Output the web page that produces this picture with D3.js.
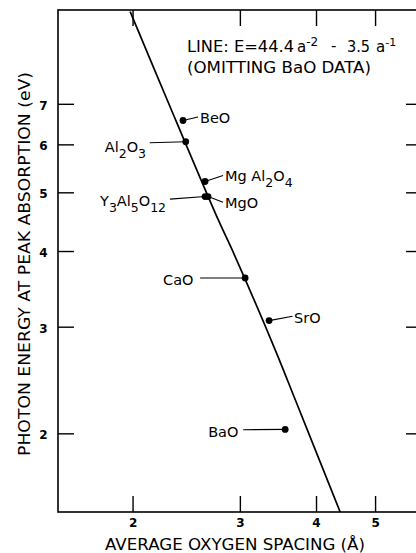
<!DOCTYPE html>
<html>
<head>
<meta charset="utf-8">
<script src="https://cdn.jsdelivr.net/npm/d3@7"></script>
<style>
  html, body { margin: 0; padding: 0; background: #fff; }
  svg { display: block; }
  text { font-family: "DejaVu Sans", sans-serif; fill: #000; }
</style>
</head>
<body>
<svg id="chart" width="416" height="553"></svg>
<script>
// ---- data ----
const compounds = ["BeO", "Al2O3", "Mg Al2O4", "Y3Al5O12", "MgO", "CaO", "SrO", "BaO"];
const spacing   = [2.42, 2.445, 2.63, 2.63, 2.66, 3.06, 3.35, 3.56];   // average oxygen spacing (Å)
const energy    = [6.57, 6.06, 5.21, 4.92, 4.92, 3.61, 3.07, 2.03];     // photon energy (eV)

// fitted line
const lineSpacing = [1.982, 2.279, 2.763, 2.913, 3.427, 3.70, 4.382];
const lineEnergy  = [9.94, 7.11, 4.51, 4.02, 2.75, 2.27, 1.483];

const xTicks = [2, 3, 4, 5];
const yTicks = [2, 3, 4, 5, 6, 7];

const xTitle = "AVERAGE OXYGEN SPACING (Å)";
const yTitle = "PHOTON ENERGY AT PEAK ABSORPTION (eV)";
const noteLine2 = "(OMITTING BaO DATA)";

// ---- layout (label placement relative to each dot) ----
const labelLayout = {
  "BeO":      { tx: 17,  ty: 2.5,  lx: 15,  ly: -3.5 },
  "Al2O3":    { tx: -81, ty: 10.2, lx: -36, ly: 1 },
  "Mg Al2O4": { tx: 20,  ty: 0,    lx: 18,  ly: -6 },
  "Y3Al5O12": { tx: -105,ty: 9.8,  lx: -35, ly: 2.6 },
  "MgO":      { tx: 17,  ty: 11.3, lx: 15,  ly: 5.8 },
  "CaO":      { tx: -82, ty: 6.7,  lx: -45, ly: 0 },
  "SrO":      { tx: 25,  ty: 2,    lx: 23.5,ly: -4.3 },
  "BaO":      { tx: -77, ty: 7.5,  lx: -42, ly: 0.3 }
};

const svg = d3.select("#chart");
const mLeft = 58, mRight = 422, mTop = 10, mBottom = 512;

const x = d3.scaleLog().domain([1.509, 5.97]).range([mLeft, mRight]);
const y = d3.scaleLog().domain([1.483, 10.0]).range([mBottom, mTop]);

// frame
svg.append("rect")
  .attr("x", mLeft).attr("y", mTop)
  .attr("width", mRight - mLeft).attr("height", mBottom - mTop)
  .attr("fill", "none").attr("stroke", "#000").attr("stroke-width", 1.6);

function styleAxis(g) {
  g.select(".domain").remove();
  g.selectAll(".tick line").attr("stroke", "#000").attr("stroke-width", 1.4);
  g.selectAll(".tick text")
    .attr("font-family", "DejaVu Sans, sans-serif")
    .attr("font-size", 12).attr("font-weight", "bold").attr("fill", "#000");
}

// bottom axis
svg.append("g").attr("transform", `translate(0,${mBottom})`)
  .call(d3.axisBottom(x).tickValues(xTicks).tickSize(-16).tickPadding(6).tickFormat(d3.format("d")))
  .call(styleAxis);
// top axis
svg.append("g").attr("transform", `translate(0,${mTop})`)
  .call(d3.axisTop(x).tickValues(xTicks).tickSize(-16).tickFormat(""))
  .call(styleAxis);
// left axis
const gl = svg.append("g").attr("transform", `translate(${mLeft},0)`)
  .call(d3.axisLeft(y).tickValues(yTicks).tickSize(-16).tickFormat(d3.format("d")))
  .call(styleAxis);
gl.selectAll(".tick text").attr("text-anchor", "middle").attr("x", 43.5 - mLeft).attr("dy", "0.45em");
// right axis
svg.append("g").attr("transform", `translate(${mRight},0)`)
  .call(d3.axisRight(y).tickValues(yTicks).tickSize(-16).tickFormat(""))
  .call(styleAxis);

// fitted line
const lineData = lineSpacing.map((a, i) => [a, lineEnergy[i]]);
svg.append("path")
  .datum(lineData)
  .attr("d", d3.line().curve(d3.curveCatmullRom.alpha(0.5)).x(d => x(d[0])).y(d => y(d[1])))
  .attr("fill", "none").attr("stroke", "#000").attr("stroke-width", 1.7);

// points, leaders, labels
const pts = compounds.map((c, i) => ({ name: c, a: spacing[i], e: energy[i] }));

function addChemLabel(sel, str) {
  // digits are subscripted
  const parts = str.match(/\d+|\D+/g);
  let sub = false;
  parts.forEach(p => {
    const isNum = /\d/.test(p);
    const t = sel.append("tspan").text(p);
    if (isNum && !sub) { t.attr("dy", 6).attr("font-size", 12.5); sub = true; }
    else if (!isNum && sub) { t.attr("dy", -6); sub = false; }
    else if (isNum) { t.attr("font-size", 12.5); }
  });
}

pts.forEach(p => {
  const cx = x(p.a), cy = y(p.e);
  const L = labelLayout[p.name];
  svg.append("line")
    .attr("x1", cx).attr("y1", cy)
    .attr("x2", cx + L.lx).attr("y2", cy + L.ly)
    .attr("stroke", "#000").attr("stroke-width", 1.1);
  const t = svg.append("text")
    .attr("x", cx + L.tx).attr("y", cy + L.ty)
    .attr("font-size", 14.5);
  addChemLabel(t, p.name);
});

pts.forEach(p => {
  svg.append("circle")
    .attr("cx", x(p.a)).attr("cy", y(p.e)).attr("r", 3.4)
    .attr("fill", "#000");
});

// annotation
svg.append("text").attr("x", 187).attr("y", 52).attr("font-size", 15)
  .attr("textLength", 107).attr("lengthAdjust", "spacingAndGlyphs").text("LINE: E=44.4");
const s1 = svg.append("text").attr("x", 297).attr("y", 52).attr("font-size", 15);
s1.append("tspan").text("a");
s1.append("tspan").attr("dy", -6).attr("font-size", 12).text("-2");
svg.append("text").attr("x", 331).attr("y", 51).attr("font-size", 15).text("-");
svg.append("text").attr("x", 347).attr("y", 52).attr("font-size", 15)
  .attr("textLength", 23).attr("lengthAdjust", "spacingAndGlyphs").text("3.5");
const s2 = svg.append("text").attr("x", 376).attr("y", 52).attr("font-size", 15);
s2.append("tspan").text("a");
s2.append("tspan").attr("dy", -6).attr("font-size", 11).text("-1");
svg.append("text").attr("x", 187).attr("y", 73).attr("font-size", 15)
  .attr("textLength", 184).attr("lengthAdjust", "spacingAndGlyphs").text(noteLine2);

// axis titles
svg.append("text")
  .attr("x", 105).attr("y", 550).attr("font-size", 15)
  .attr("textLength", 260).attr("lengthAdjust", "spacingAndGlyphs")
  .text(xTitle);
svg.append("text")
  .attr("transform", "translate(30,456) rotate(-90)")
  .attr("x", 0).attr("y", 0).attr("font-size", 15)
  .attr("textLength", 384).attr("lengthAdjust", "spacingAndGlyphs")
  .text(yTitle);
</script>
</body>
</html>
